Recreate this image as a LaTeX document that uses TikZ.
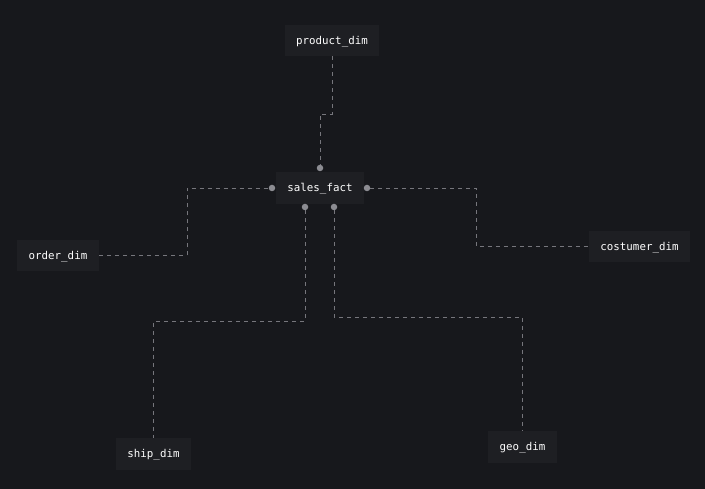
\documentclass[tikz,border=0pt]{standalone}
\usepackage{fontspec}
\setmonofont{DejaVu Sans Mono}
\definecolor{bg}{HTML}{17181C}
\definecolor{boxfill}{HTML}{1E1F23}
\definecolor{linec}{HTML}{76767C}
\definecolor{dotc}{HTML}{8C8C92}
\begin{document}
\begin{tikzpicture}[x=1pt,y=-1pt,
  tbl/.style={fill=boxfill, draw=none, inner sep=0pt, text=white,
    text height=7.5pt, text depth=0pt,
    font=\ttfamily\fontsize{10.8}{12}\selectfont},
  rel/.style={draw=linec, line width=0.9pt, dash pattern=on 4pt off 4pt},
  port/.style={circle, fill=dotc, inner sep=0pt, minimum size=6.5pt}]
\fill[bg] (0,0) rectangle (705,489);
\useasboundingbox (0,0) rectangle (705,489);
% tables
\node[tbl, minimum width=94pt, minimum height=31pt] (product) at (332,40.5) {product\_dim};
\node[tbl, minimum width=88pt, minimum height=32pt] (sales) at (320,188) {sales\_fact};
\node[tbl, minimum width=82pt, minimum height=31pt] (order) at (58,255.5) {order\_dim};
\node[tbl, minimum width=101pt, minimum height=31pt] (costumer) at (639.5,246.5) {costumer\_dim};
\node[tbl, minimum width=75pt, minimum height=32pt] (ship) at (153.5,454) {ship\_dim};
\node[tbl, minimum width=69pt, minimum height=32pt] (geo) at (522.5,447) {geo\_dim};
% ports
\node[port] (pt) at (320,168) {};
\node[port] (pl) at (272,188) {};
\node[port] (pr) at (367,188) {};
\node[port] (pb1) at (305,207) {};
\node[port] (pb2) at (334,207) {};
% relations
\draw[rel] (product.south) -- (332,114) -- (320,114) -- (pt.north);
\draw[rel] (order.east) -- (187,255.5) -- (187,188) -- (pl.west);
\draw[rel] (pr.east) -- (476,188) -- (476,246.5) -- (costumer.west);
\draw[rel] (pb1.south) -- (305,321) -- (153.5,321) -- (ship.north);
\draw[rel] (pb2.south) -- (334,317) -- (522.5,317) -- (geo.north);
\end{tikzpicture}
\end{document}
